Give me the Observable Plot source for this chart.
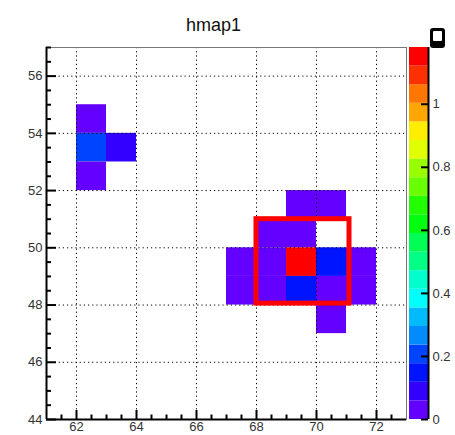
<!DOCTYPE html>
<html>
<head>
<meta charset="utf-8">
<script src="https://cdn.jsdelivr.net/npm/d3@7"></script>
<script src="https://cdn.jsdelivr.net/npm/@observablehq/plot@0.6"></script>
<style>
  html, body { margin: 0; padding: 0; background: white; }
  #wrap { position: relative; width: 455px; height: 435px; }
  #wrap svg { position: absolute; left: 0; top: 0; }
</style>
</head>
<body>
<div id="wrap"></div>
<script>
// ---- data ----
const binX   = [62, 62, 62, 63, 69, 70, 68, 69, 67, 68, 69, 70, 71, 67, 68, 69, 70, 71, 70];
const binY   = [54, 53, 52, 53, 51, 51, 50, 50, 49, 49, 49, 49, 49, 48, 48, 48, 48, 48, 47];
const binVal = [0.03, 0.20, 0.03, 0.09, 0.03, 0.03, 0.03, 0.03, 0.03, 0.03, 1.18, 0.15, 0.03, 0.03, 0.03, 0.15, 0.03, 0.03, 0.03];
const zMax = 1.18;
const xTicks = [62, 64, 66, 68, 70, 72];
const yTicks = [44, 46, 48, 50, 52, 54, 56];
const zTicks = [0, 0.2, 0.4, 0.6, 0.8, 1];
const zTickLabels = ["0", "0.2", "0.4", "0.6", "0.8", "1"];
const box = {x1: 68, x2: 71.1, y1: 48.05, y2: 51};
const palette = ["#6300ff", "#3300ff", "#0014ff", "#0044ff", "#008bff", "#00bbff", "#00fffc", "#00ffcc",
                 "#00ff85", "#00ff55", "#00ff0e", "#22ff00", "#69ff00", "#99ff00", "#e0ff00", "#ffee00",
                 "#ffa700", "#ff7700", "#ff3000", "#ff0000"];

const cells = binX.map((x, i) => ({x, y: binY[i], v: binVal[i]}));
const nb = palette.length;
const thresholds = d3.range(1, nb).map(i => i * zMax / nb);
const bands = palette.map((c, i) => ({lo: i * zMax / nb, hi: (i + 1) * zMax / nb, c}));
const xMinor = d3.range(61.5, 73, 0.5).filter(v => v % 2 !== 0);
const yMinor = d3.range(44.5, 57.01, 0.5).filter(v => v % 2 !== 0);

const font = "'Liberation Sans', Arial, Helvetica, sans-serif";
const W = 455, H = 435, mL = 46, mR = 49, mT = 47, mB = 16;
const fw = W - mL - mR, fh = H - mT - mB;

const main = Plot.plot({
  width: W, height: H,
  marginLeft: mL, marginRight: mR, marginTop: mT, marginBottom: mB,
  style: {fontFamily: font, fontSize: "13px", background: "white", overflow: "visible"},
  x: {domain: [61, 73], axis: null},
  y: {domain: [44, 57], axis: null},
  color: {type: "threshold", domain: thresholds, range: palette},
  marks: [
    Plot.rect(cells, {x1: d => d.x, x2: d => d.x + 1, y1: d => d.y, y2: d => d.y + 1, fill: "v"}),
    Plot.gridX(xTicks, {stroke: "black", strokeOpacity: 1, strokeWidth: 1, strokeDasharray: "1.2,3"}),
    Plot.gridY(yTicks.filter(t => t > 44), {stroke: "black", strokeOpacity: 1, strokeWidth: 1, strokeDasharray: "1.2,3"}),
    Plot.frame({stroke: "#777", strokeWidth: 1}),
    Plot.rect([box], {x1: "x1", x2: "x2", y1: "y1", y2: "y2", stroke: "#ff0000", strokeWidth: 5, fill: "none"}),
    Plot.ruleX(xTicks, {stroke: "black", strokeWidth: 2, insetTop: fh - 9}),
    Plot.ruleX(xMinor, {stroke: "black", strokeWidth: 2, insetTop: fh - 4.5}),
    Plot.ruleY(yTicks, {stroke: "black", strokeWidth: 2, insetRight: fw - 10}),
    Plot.ruleY(yMinor, {stroke: "black", strokeWidth: 2, insetRight: fw - 5}),
    Plot.ruleY([44], {stroke: "black", strokeWidth: 2}),
    Plot.ruleX([61], {stroke: "black", strokeWidth: 2}),
    Plot.axisX(xTicks, {tickSize: 0, tickPadding: 2, fontSize: 13, fill: "#333", label: null}),
    Plot.axisY(yTicks, {tickSize: 0, tickPadding: 4, fontSize: 13, fill: "#333", label: null}),
    Plot.text(["hmap1"], {frameAnchor: "top", dx: -13, dy: -29, fontSize: 18, fill: "#111", fontFamily: font})
  ]
});

const bar = Plot.plot({
  width: W, height: H,
  marginLeft: 409, marginRight: 27, marginTop: mT, marginBottom: mB,
  style: {fontFamily: font, fontSize: "13px", background: "transparent", overflow: "visible"},
  x: {domain: [0, 1], axis: null},
  y: {domain: [0, zMax], axis: null},
  color: {type: "identity"},
  marks: [
    Plot.rect(bands, {x1: 0, x2: 1, y1: "lo", y2: "hi", fill: "c"}),
    Plot.ruleX([1], {stroke: "black", strokeWidth: 2}),
    Plot.ruleY(zTicks, {y: d => d, x1: 0.63, x2: 1, stroke: "black", strokeWidth: 2}),
    Plot.text(zTicks, {y: d => d, text: (d, i) => zTickLabels[i], frameAnchor: "right", dx: 4, textAnchor: "start", fontSize: 13, fill: "#333"})
  ]
});

const wrap = document.getElementById("wrap");
wrap.appendChild(main);
wrap.appendChild(bar);

// small palette-corner decoration seen at the top right of the reference
const s = d3.select(bar);
s.append("rect").attr("x", 430).attr("y", 28).attr("width", 15).attr("height", 20).attr("rx", 3).attr("fill", "black");
s.append("rect").attr("x", 433).attr("y", 31).attr("width", 9).attr("height", 10).attr("rx", 1).attr("fill", "white");
</script>
</body>
</html>
